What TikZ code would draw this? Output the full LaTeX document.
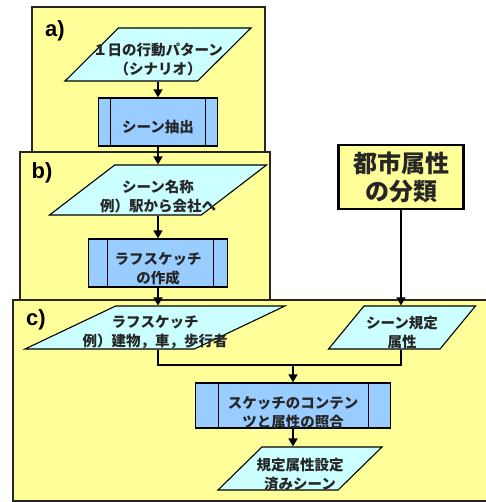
\documentclass[tikz,border=0pt]{standalone}
\usepackage{fontspec}
\setmainfont{Noto Sans CJK JP}
\newfontfamily\labfont{Liberation Sans}
\usetikzlibrary{shapes.geometric,arrows.meta}
\definecolor{bgy}{HTML}{FFFF99}
\definecolor{cyanf}{HTML}{CCFFFF}
\definecolor{bluef}{HTML}{99CCFF}
\begin{document}
\begin{tikzpicture}[x=1pt,y=-1pt,
  panel/.style={draw=black!85, line width=1.3pt, fill=bgy},
  io/.style 2 args={trapezium, trapezium stretches=true,
    trapezium left angle=#1, trapezium right angle=#2,
    draw=black, line width=1.1pt, fill=cyanf, inner sep=2pt},
  proc/.style 2 args={rectangle, draw=black, line width=1.3pt, fill=bluef, inner sep=2pt,
    path picture={\draw[line width=1pt]
      ([xshift=#1]path picture bounding box.north west) -- ([xshift=#1]path picture bounding box.south west)
      ([xshift=-#2]path picture bounding box.north east) -- ([xshift=-#2]path picture bounding box.south east);}},
  txt/.style={font=\bfseries\fontsize{14.5}{19}\selectfont, align=center, text=black!85, inner sep=0pt},
  tag/.style={font=\labfont\bfseries\fontsize{22}{24}\selectfont, inner sep=0pt},
  arr/.style={line width=1.6pt, -{Triangle[width=9pt,length=8pt]}},
  conn/.style={line width=1.6pt}
]
\useasboundingbox (0,0) rectangle (485,502);
% panels
\draw[panel] (32,7) rectangle (265,170);
\draw[panel] (20,152) rectangle (270,310);
\draw[panel] (13,300) rectangle (492,501);
\node[tag] (la) at (55,31) {a)};
\node[tag] (lb) at (42,173) {b)};
\node[tag] (lc) at (36,320) {c)};
% a)
\node[io={56}{124}, minimum width=186pt, minimum height=53pt] (p1) at (158,54.5) {};
\node[txt] (t1) at ([yshift=-5pt]p1.center) {１日の行動パターン\\（シナリオ）};
\node[proc={12pt}{12pt}, minimum width=119pt, minimum height=48pt] (s1) at (158,122) {};
\node[txt] (u1) at ([yshift=-5pt]s1.center) {シーン抽出};
% b)
\node[io={53}{127}, minimum width=217pt, minimum height=50pt] (p2) at (158,190) {};
\node[txt] (t2) at ([yshift=-6pt]p2.center) {シーン名称\\例）駅から会社へ};
\node[proc={19pt}{14pt}, minimum width=139pt, minimum height=48pt] (s2) at (158,263) {};
\node[txt] (u2) at ([yshift=-6pt]s2.center) {ラフスケッチ\\の作成};
% c)
\node[io={41}{139}, minimum width=260pt, minimum height=43pt] (p3) at (155,327.5) {};
\node[txt] (t3) at ([yshift=-5pt]p3.center) {ラフスケッチ\\例）建物，車，歩行者};
\node[io={65}{115}, minimum width=147pt, minimum height=43pt] (p4) at (402,327.5) {};
\node[txt] (t4) at ([yshift=-5pt]p4.center) {シーン規定\\属性};
\node[proc={23pt}{22pt}, minimum width=195pt, minimum height=45pt] (s3) at (293,405.5) {};
\node[txt] (u3) at ([yshift=-7pt]s3.center) {スケッチのコンテン\\ツと属性の照合};
\node[io={60}{120}, minimum width=164pt, minimum height=43pt] (p5) at (300,468.5) {};
\node[txt] (t5) at ([yshift=-6pt]p5.center) {規定属性設定\\済みシーン};
% city
\node[draw=black, line width=2.2pt, fill=bgy, minimum width=125pt, minimum height=64pt,
  inner sep=0pt, font=\bfseries\fontsize{24}{28}\selectfont, align=center, text=black!85] (city) at (401,177) {都市属性\\の分類};
% connectors
\coordinate (mj) at (293,365);
\draw[arr] (p1.south) -- (s1.north);
\draw[arr] (s1.south) -- (p2.north);
\draw[arr] (p2.south) -- (s2.north);
\draw[arr] (s2.south) -- (s2.south |- p3.north);
\draw[arr] (city.south) -- (city.south |- p4.north);
\draw[conn] (s2.south |- p3.south) |- (city.south |- mj) -- (city.south |- p4.south);
\draw[arr] (mj) -- (s3.north);
\draw[arr] (s3.south) -- (s3.south |- p5.north);
\end{tikzpicture}
\end{document}
